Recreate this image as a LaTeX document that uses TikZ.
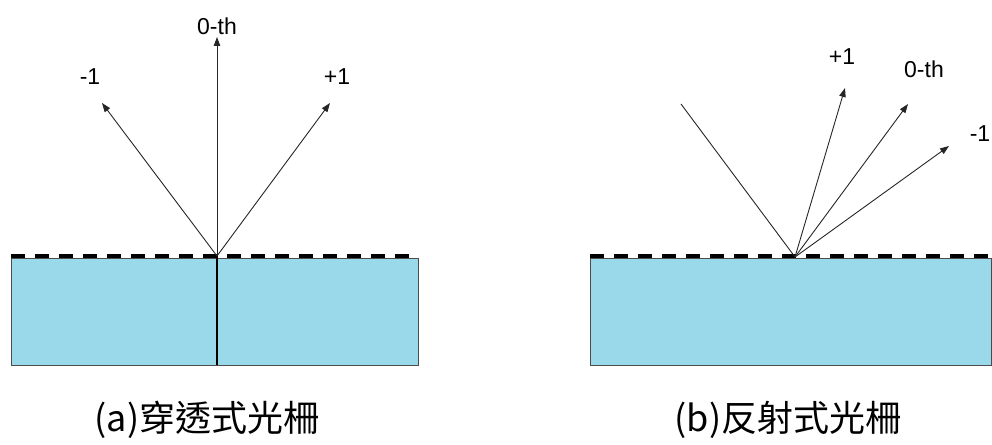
\documentclass[tikz,border=0pt]{standalone}
\usepackage{fontspec}
\setsansfont{Liberation Sans}
\newfontfamily\cjk{Noto Sans CJK TC}
\usetikzlibrary{arrows.meta}
\definecolor{glass}{RGB}{153,217,234}
\tikzset{
  order/.style={font=\sffamily\fontsize{23}{23}\selectfont, inner sep=0pt},
  ray/.style={draw=black!85, line width=0.9pt, -{Triangle[length=9pt,width=6.5pt]}},
  plate/.style={fill=glass, draw=black!70, line width=0.9pt},
  groove/.style={line width=3.5pt, dash pattern=on 14pt off 10pt},
  caption/.style={font=\cjk\fontsize{36}{36}\selectfont, inner sep=0pt}
}
\begin{document}
\begin{tikzpicture}[x=1pt, y=-1pt]
\useasboundingbox (0, 0) rectangle (992, 444);
% (a) transmission
\draw [plate] (11, 258) rectangle (418, 365);
\draw [groove] (11, 256) -- (412, 256);
\coordinate (oa) at (217, 256);
\coordinate (ba) at (217, 365);
\draw [line width=1.1pt] (oa) -- (ba);
\draw (217, 26) node [order] (a0) {0-th};
\draw (90, 77) node [order] (am) {-1};
\draw (337, 77) node [order] (ap) {+1};
\coordinate (ta0) at (217, 37);
\coordinate (tam) at (102, 103);
\coordinate (tap) at (330, 103);
\draw [ray] (oa) -- (ta0);
\draw [ray] (oa) -- (tam);
\draw [ray] (oa) -- (tap);
\draw (207, 420) node [caption] (capa) {(a)穿透式光柵};
% (b) reflection
\draw [plate] (590, 258) rectangle (991, 365);
\draw [groove] (590, 256) -- (992, 256);
\coordinate (ob) at (795, 257);
\coordinate (ib) at (681, 104);
\draw [draw=black!85, line width=0.9pt] (ib) -- (ob);
\draw (842, 57) node [order] (bp) {+1};
\draw (924, 69) node [order] (b0) {0-th};
\draw (980, 134) node [order] (bm) {-1};
\coordinate (tbp) at (845, 88);
\coordinate (tb0) at (908, 104);
\coordinate (tbm) at (949, 146);
\draw [ray] (ob) -- (tbp);
\draw [ray] (ob) -- (tb0);
\draw [ray] (ob) -- (tbm);
\draw (788, 420) node [caption] (capb) {(b)反射式光柵};
\end{tikzpicture}
\end{document}
